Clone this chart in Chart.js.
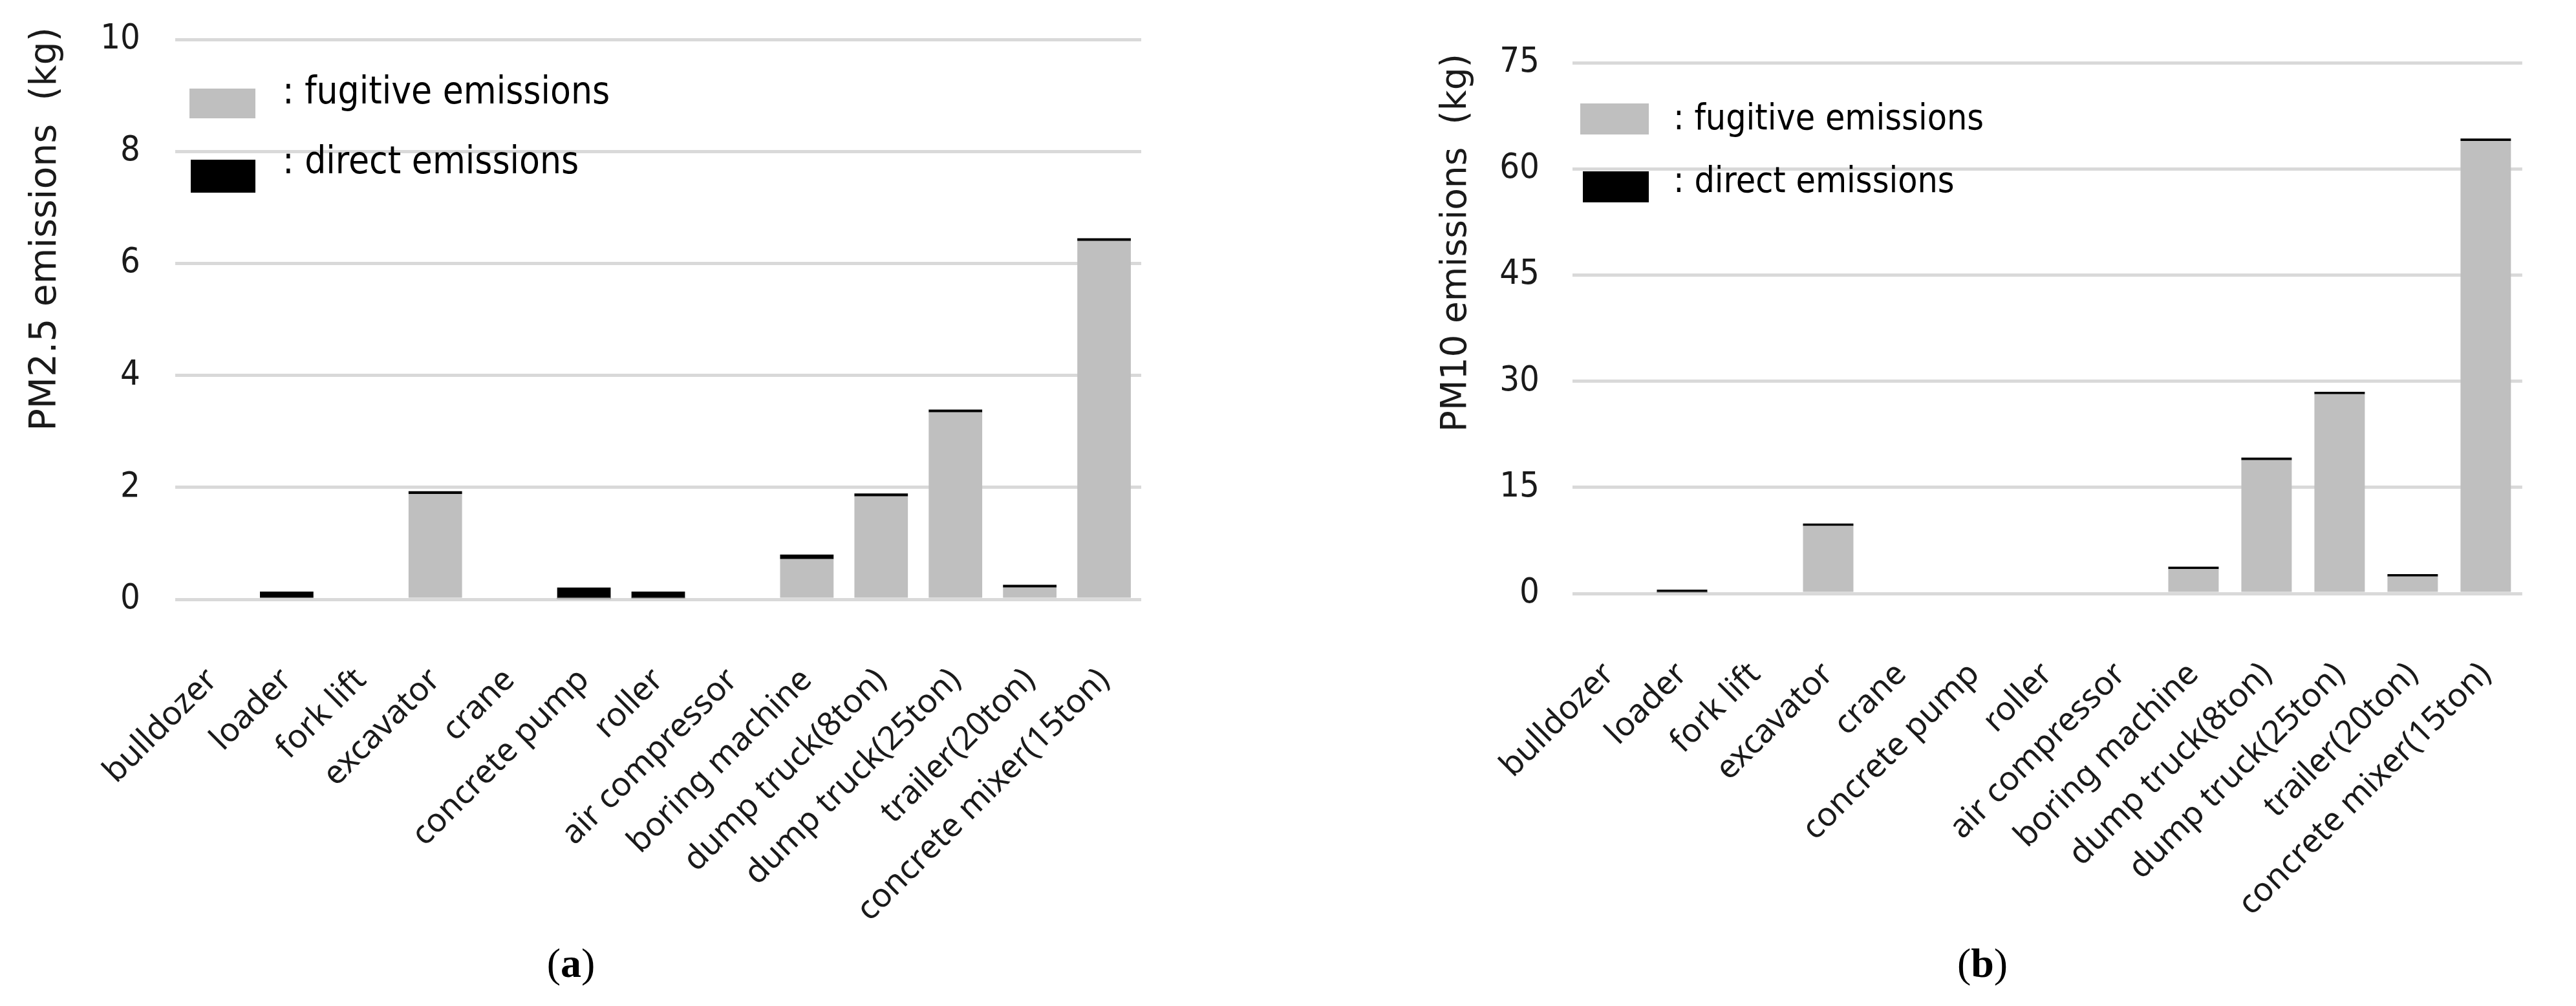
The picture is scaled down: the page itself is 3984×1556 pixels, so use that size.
<!DOCTYPE html>
<html><head><meta charset="utf-8">
<script src="https://cdn.jsdelivr.net/npm/chart.js@4.4.1/dist/chart.umd.min.js"></script>
<style>
html,body{margin:0;padding:0;background:#fff;width:3984px;height:1556px;overflow:hidden;}
canvas{position:absolute;top:0;}
#ca{left:0;} #cb{left:2000px;}
.cap{position:absolute;font-family:"Liberation Serif","Times New Roman",serif;font-size:64px;color:#000;transform:translateX(-50%);top:1458px;line-height:1;}
</style></head><body>
<canvas id="ca" width="1990" height="1556"></canvas>
<canvas id="cb" width="1984" height="1556"></canvas>
<div class="cap" style="left:883px">(<b>a</b>)</div>
<div class="cap" style="left:3066px">(<b>b</b>)</div>
<script>
const categories = ['bulldozer','loader','fork lift','excavator','crane','concrete pump','roller','air compressor','boring machine','dump truck(8ton)','dump truck(25ton)','trailer(20ton)','concrete mixer(15ton)'];
const seriesNames = ['fugitive emissions','direct emissions'];
const pm25Fugitive = [0,0.03,0,1.88,0,0.01,0.02,0,0.72,1.84,3.34,0.21,6.40];
const pm25Direct   = [0,0.11,0,0.05,0,0.20,0.12,0,0.08,0.05,0.05,0.05,0.05];
const pm10Fugitive = [0,0.15,0,9.55,0,0,0,0,3.45,18.85,28.15,2.40,63.95];
const pm10Direct   = [0,0.40,0,0.35,0,0,0,0,0.35,0.35,0.35,0.35,0.35];
const pm25Ticks = [0,2,4,6,8,10];
const pm10Ticks = [0,15,30,45,60,75];
const yTitles = ['PM2.5 emissions  (kg)','PM10 emissions  (kg)'];

const condensed = '"Liberation Sans Narrow","DejaVu Sans Condensed","Roboto Condensed","Open Sans",sans-serif';

const insideLegend = {
  id: 'insideLegend',
  afterDraw(chart, args, opts) {
    const {ctx, chartArea} = chart;
    ctx.save();
    chart.data.datasets.forEach((ds, i) => {
      const it = opts.items[i];
      ctx.fillStyle = ds.backgroundColor;
      ctx.fillRect(chartArea.left + it.boxX, chartArea.top + it.boxY, it.boxW, it.boxH);
      ctx.fillStyle = '#000';
      ctx.font = opts.font;
      ctx.textBaseline = 'alphabetic';
      ctx.textAlign = 'left';
      ctx.fillText(': ' + ds.label, chartArea.left + opts.textX, chartArea.top + it.baseline);
    });
    ctx.restore();
  }
};

const yTitle = {
  id: 'yTitle',
  afterDraw(chart, args, o) {
    const ctx = chart.ctx;
    ctx.save();
    ctx.translate(o.x, o.endY);
    ctx.rotate(-Math.PI / 2);
    ctx.font = o.font;
    ctx.fillStyle = o.color;
    ctx.textAlign = 'right';
    ctx.textBaseline = 'alphabetic';
    ctx.fillText(o.text, 0, 0);
    ctx.restore();
  }
};

function makeChart(id, fug, dir, ticks, title, L) {
  const canvasH = 1556;
  return new Chart(document.getElementById(id), {
    type: 'bar',
    data: {
      labels: categories,
      datasets: [
        {label: seriesNames[0], data: fug, backgroundColor: '#bfbfbf', borderWidth: 0,
         barPercentage: L.barPct, categoryPercentage: 1},
        {label: seriesNames[1], data: dir, backgroundColor: '#000000', borderWidth: 0,
         barPercentage: L.barPct, categoryPercentage: 1}
      ]
    },
    options: {
      responsive: false,
      animation: false,
      devicePixelRatio: 1,
      layout: {padding: {left: 0, top: L.top, right: L.padRight, bottom: 0}},
      plugins: {
        legend: {display: false},
        tooltip: {enabled: false},
        insideLegend: L.legend,
        yTitle: {text: title, x: L.titleX, endY: L.titleEnd, color: '#1a1a1a',
                 font: L.titleFont + 'px "DejaVu Sans",sans-serif'}
      },
      scales: {
        x: {
          stacked: true,
          grid: {display: false, drawTicks: false},
          border: {display: false},
          ticks: {
            autoSkip: false, maxRotation: 45, minRotation: 45, padding: L.xPad,
            color: '#1a1a1a',
            font: {family: '"Noto Sans",sans-serif', size: L.xFont}
          },
          afterFit: (s) => { s.height = canvasH - L.bottom; }
        },
        y: {
          stacked: true,
          min: ticks[0], max: ticks[ticks.length - 1],
          ticks: {
            stepSize: ticks[1] - ticks[0], padding: 3, color: '#1a1a1a',
            font: {family: condensed, size: L.yFont}
          },
          grid: {color: '#d9d9d9', lineWidth: 5, drawTicks: true, tickLength: L.yPad - 3,
                 tickColor: 'rgba(0,0,0,0)'},
          border: {display: false},
          title: {display: false},
          afterFit: (s) => { s.width = L.left; }
        }
      }
    },
    plugins: [insideLegend, yTitle]
  });
}

makeChart('ca', pm25Fugitive, pm25Direct, pm25Ticks, yTitles[0], {
  left: 271, top: 61, bottom: 927, padRight: 1990 - 1765,
  barPct: 0.72, xPad: 95, xFont: 51, yPad: 54, yFont: 54,
  titleFont: 57, titleX: 86, titleEnd: 42,
  legend: {font: '58px ' + condensed, textX: 166,
    items: [{boxX: 22, boxY: 76, boxW: 102, boxH: 46, baseline: 99},
            {boxX: 24, boxY: 186, boxW: 100, boxH: 51, baseline: 207}]}
});
makeChart('cb', pm10Fugitive, pm10Direct, pm10Ticks, yTitles[1], {
  left: 432, top: 97, bottom: 918, padRight: 1984 - 1949,
  barPct: 0.69, xPad: 95, xFont: 51, yPad: 51, yFont: 54,
  titleFont: 55, titleX: 267, titleEnd: 83,
  legend: {font: '55px ' + condensed, textX: 156,
    items: [{boxX: 12, boxY: 63, boxW: 106, boxH: 48, baseline: 103},
            {boxX: 16, boxY: 168, boxW: 102, boxH: 48, baseline: 200}]}
});
</script>
</body></html>
